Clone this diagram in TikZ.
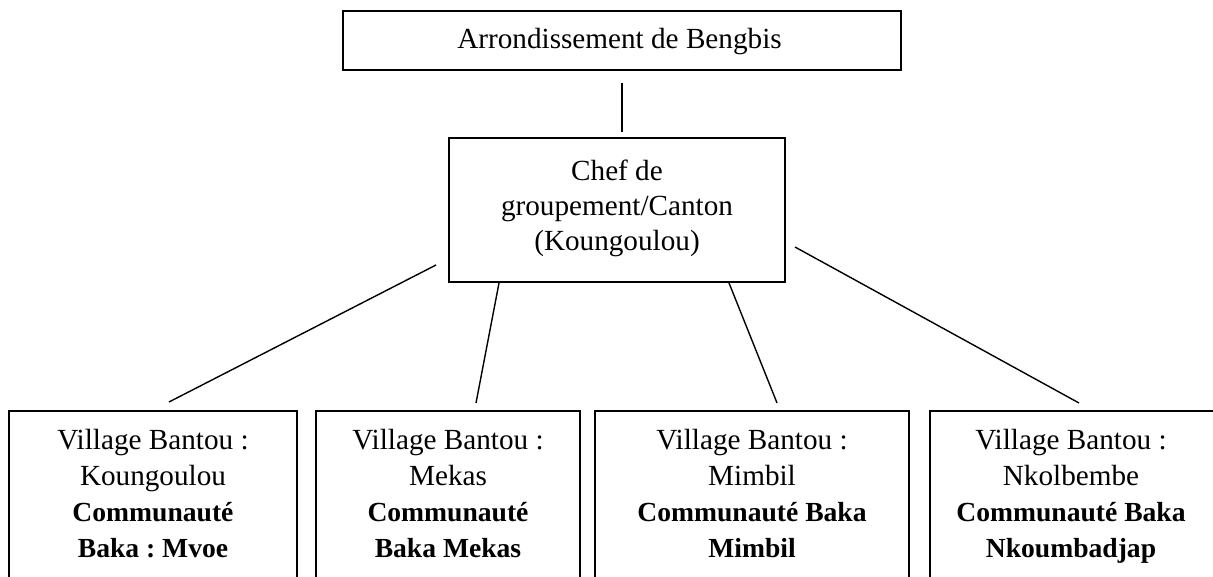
\documentclass[tikz,border=0pt]{standalone}
\usepackage{fontspec}
\setmainfont{Liberation Serif}
\frenchspacing
\newcommand{\bkl}[1]{{\bfseries\fontsize{13.8}{18}\selectfont #1}}
\begin{document}
\begin{tikzpicture}[x=0.5pt,y=-0.5pt,
  box/.style={draw, line width=0.8pt, inner sep=0pt},
  link/.style={line width=0.7pt},
  txt/.style={inner sep=0pt, align=center, font=\fontsize{14.6}{17.5}\selectfont},
  btxt/.style={inner sep=0pt, align=center, font=\fontsize{14.6}{18}\selectfont}]
\clip (0,0) rectangle (1213,577);
% boxes
\node[box, minimum width=279pt, minimum height=29.5pt] (top) at (622,40.5) {};
\node[box, minimum width=168pt, minimum height=72pt] (mid) at (617,210) {};
\node[box, minimum width=144pt, minimum height=104.5pt] (b1) at (153,515.5) {};
\node[box, minimum width=132pt, minimum height=104.5pt] (b2) at (448,515.5) {};
\node[box, minimum width=157pt, minimum height=104.5pt] (b3) at (752,515.5) {};
\node[box, minimum width=145pt, minimum height=104.5pt] (b4) at (1075,515.5) {};
% texts
\node[txt, anchor=base] (ttop) at (619.5,49) {Arrondissement de Bengbis};
\node[txt, anchor=north] (tmid) at (617,160) {Chef de\\groupement/Canton\\(Koungoulou)};
\node[btxt, anchor=north] (t1) at (153,429) {Village Bantou :\\Koungoulou\\\bkl{Communauté}\\\bkl{Baka : Mvoe}};
\node[btxt, anchor=north] (t2) at (448,429) {Village Bantou :\\Mekas\\\bkl{Communauté}\\\bkl{Baka Mekas}};
\node[btxt, anchor=north] (t3) at (752,429) {Village Bantou :\\Mimbil\\\bkl{Communauté Baka}\\\bkl{Mimbil}};
\node[btxt, anchor=north] (t4) at (1071,429) {Village Bantou :\\Nkolbembe\\\bkl{Communauté Baka}\\\bkl{Nkoumbadjap}};
% connector ends
\coordinate (v0) at (622,83);
\coordinate (v1) at (622,132);
\coordinate (a0) at (436,265);
\coordinate (a1) at (169,402);
\coordinate (c0) at (499,283);
\coordinate (c1) at (476,403);
\coordinate (d0) at (729,283);
\coordinate (d1) at (777,403);
\coordinate (e0) at (795,247);
\coordinate (e1) at (1079,403);
% connectors
\draw[link] (v0) -- (v1);
\draw[link] (a0) -- (a1);
\draw[link] (c0) -- (c1);
\draw[link] (d0) -- (d1);
\draw[link] (e0) -- (e1);
\end{tikzpicture}
\end{document}
